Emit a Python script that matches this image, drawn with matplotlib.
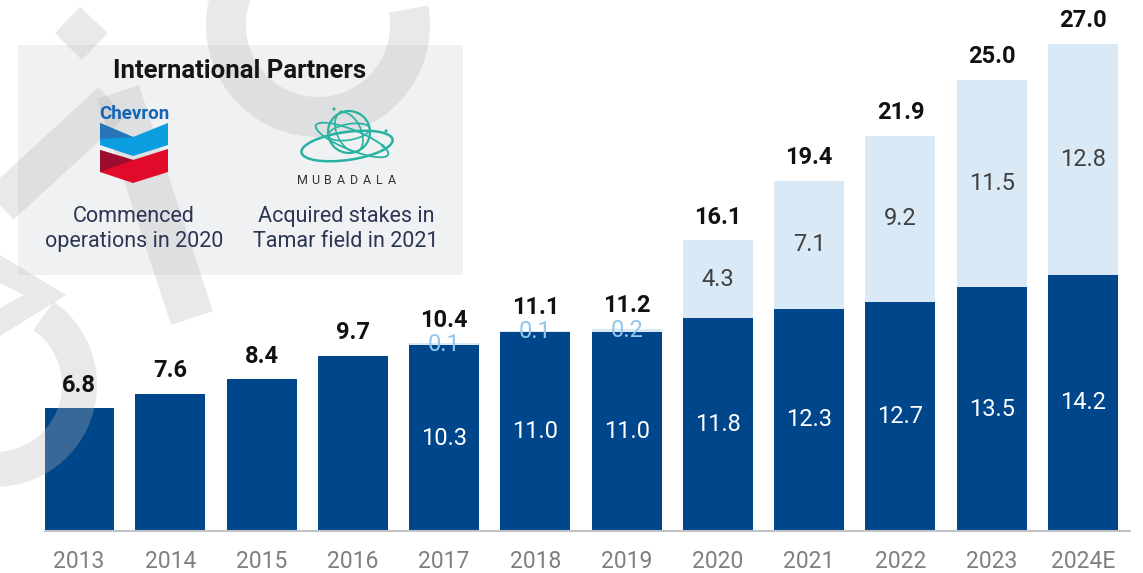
import numpy as np
import matplotlib
matplotlib.use("Agg")
import matplotlib.pyplot as plt
from matplotlib.patches import Rectangle, Polygon, Wedge, Ellipse, Circle

plt.rcParams['font.family'] = ['Roboto', 'DejaVu Sans']

# ---- data ----
years = ['2013', '2014', '2015', '2016', '2017', '2018', '2019',
         '2020', '2021', '2022', '2023', '2024E']
domestic = [6.8, 7.6, 8.4, 9.7, 10.3, 11.0, 11.0, 11.8, 12.3, 12.7, 13.5, 14.2]
export = [0, 0, 0, 0, 0.1, 0.1, 0.2, 4.3, 7.1, 9.2, 11.5, 12.8]
totals = [6.8, 7.6, 8.4, 9.7, 10.4, 11.1, 11.2, 16.1, 19.4, 21.9, 25.0, 27.0]

DARK = '#00468b'
LIGHT = '#d9e9f6'
WM = '#b7b7b7'

fig = plt.figure(figsize=(11.43, 5.73), dpi=100)
fig.patch.set_facecolor('white')

# pixel coordinate frame (y down) for the decorations
ax_px = fig.add_axes([0, 0, 1, 1])
ax_px.set_xlim(0, 1143)
ax_px.set_ylim(573, 0)
ax_px.axis('off')
px = ax_px.transData

ax = fig.add_axes([45 / 1143, 42 / 573, 1085 / 1143, 531 / 573])
ax.patch.set_visible(False)

x = np.arange(len(years))
ax.bar(x, domestic, width=0.767, color=DARK, zorder=2)
ax.bar(x, export, width=0.767, bottom=domestic, color=LIGHT, zorder=2)
ax.set_xlim(-0.3725, 11.515)
ax.set_ylim(0, 29.42)

for i in range(len(years)):
    ax.annotate(f'{totals[i]:.1f}', (x[i], totals[i]), xytext=(0, 12),
                textcoords='offset points', ha='center', va='baseline',
                fontsize=17, fontweight='bold', color='#111111', zorder=4)
    if export[i] > 0:
        ax.text(x[i], domestic[i] / 2, f'{domestic[i]:.1f}', ha='center',
                va='center', fontsize=17, color='white', zorder=4)
        col = '#404040' if export[i] > 1 else '#93c6ea'
        ax.text(x[i], domestic[i] + export[i] / 2, f'{export[i]:.1f}',
                ha='center', va='center', fontsize=17, color=col, zorder=4)

ax.set_xticks(x, years)
ax.set_yticks([])
ax.tick_params(axis='x', length=0, pad=14, labelsize=16.5, labelcolor='#7f7f7f')
for s in ['top', 'left', 'right']:
    ax.spines[s].set_visible(False)
ax.spines['bottom'].set_color('#c2c2c6')
ax.spines['bottom'].set_linewidth(1.5)


def deco(patch, z):
    patch.set_transform(px)
    patch.set_clip_on(False)
    patch.set_zorder(z)
    ax.add_patch(patch)


def band(p1, p2, w):
    p1, p2 = np.array(p1, float), np.array(p2, float)
    d = p2 - p1
    n = np.array([-d[1], d[0]]) / np.hypot(*d) * w / 2
    return [p1 + n, p2 + n, p2 - n, p1 - n]


# inset box
deco(Rectangle((18, 45), 445, 230, color='#f0f1f3', lw=0), 0.5)

# faint watermark shapes
wm = dict(color=WM, alpha=0.3, lw=0)
deco(Polygon([(55, 33), (80, 7), (108, 33), (82, 60)], **wm), 3)
deco(Wedge((318, 25), 112, -10, 200, width=40, **wm), 3)
deco(Polygon(band((118, 92), (192, 318), 44), **wm), 3)
deco(Polygon(band((0, 205), (112, 102), 40), **wm), 3)
deco(Polygon([(0, 255), (66, 295), (0, 336), (0, 308), (24, 295), (0, 283)], **wm), 3)
deco(Wedge((-5, 385), 102, -55, 95, width=35, **wm), 3)

# Chevron logo
ax.text(134, 114, 'Chevron', transform=px, ha='center', va='center',
        fontsize=13.5, fontweight='bold', color='#1565b5', zorder=4)
deco(Polygon([(100, 123), (133, 137), (168, 123), (168, 145), (133, 156),
              (100, 145)], color='#0a9de0', lw=0), 3.5)
deco(Polygon([(100, 123), (133, 137), (100, 139)], color='#2a74b8', lw=0), 3.6)
deco(Polygon([(100, 150), (133, 160), (168, 149), (168, 172), (133, 183),
              (100, 172)], color='#e10a2a', lw=0), 3.5)
deco(Polygon([(100, 150), (133, 160), (100, 172)], color='#9d0c2c', lw=0), 3.6)

# Mubadala logo
teal = '#27b2a2'
deco(Circle((349, 132), 21, fill=False, ec=teal, lw=1.6), 3.5)
deco(Ellipse((349, 132), 24, 42, angle=-25, fill=False, ec=teal, lw=1.2), 3.5)
deco(Ellipse((349, 132), 42, 16, angle=-10, fill=False, ec=teal, lw=1.2), 3.5)
deco(Ellipse((347, 146), 92, 28, angle=-8, fill=False, ec=teal, lw=1.8), 3.5)
deco(Ellipse((352, 140), 78, 20, angle=22, fill=False, ec=teal, lw=1.3), 3.5)
for cx, cy in [(334, 109), (341, 112), (386, 131), (383, 146)]:
    deco(Circle((cx, cy), 1.6, color=teal, lw=0), 3.5)
for k, ch in enumerate('MUBADALA'):
    ax.text(302 + k * 12.9, 181, ch, transform=px, ha='center', va='center',
            fontsize=9, color='#333333', zorder=4)

# inset texts
ax.text(240, 71, 'International Partners', transform=px, ha='center',
        va='center', fontsize=18.5, fontweight='bold', color='#151515', zorder=4)
ax.text(134, 229, 'Commenced\noperations in 2020', transform=px, ha='center',
        va='center', fontsize=15.5, color='#2b3654', linespacing=1.25, zorder=4)
ax.text(346, 229, 'Acquired stakes in\nTamar field in 2021', transform=px,
        ha='center', va='center', fontsize=15.5, color='#2b3654',
        linespacing=1.25, zorder=4)

fig.savefig('out.png', dpi=100, facecolor='white')
